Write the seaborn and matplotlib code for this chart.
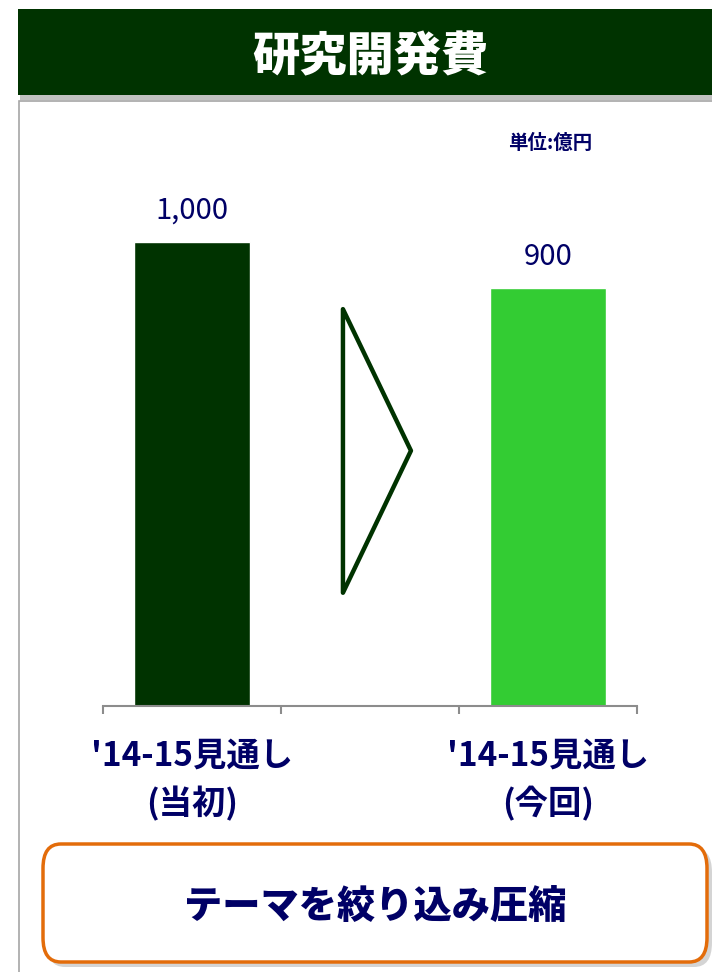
import matplotlib
matplotlib.use("Agg")
import matplotlib.pyplot as plt
import seaborn as sns
import pandas as pd
from matplotlib.patches import Rectangle, FancyBboxPatch, Polygon

# ---- data ----
categories = ["'14-15見通し\n(当初)", "'14-15見通し\n(今回)"]
values = [1000, 900]
value_labels = ["1,000", "900"]
bar_colors = ["#003300", "#33CC33"]
title = "研究開発費"
unit = "単位:億円"
note = "テーマを絞り込み圧縮"

sns.set_theme(style="white")
plt.rcParams['font.family'] = ['Noto Sans CJK JP', 'DejaVu Sans']

W, H = 712, 972
fig = plt.figure(figsize=(W / 100, H / 100), dpi=100)
fig.patch.set_facecolor("white")

def fx(x):
    return x / W

def fy(y):
    return 1 - y / H

NAVY = "#000066"

# header shadow + header
fig.add_artist(Rectangle((fx(20), fy(100)), fx(712) - fx(20), fy(93) - fy(100),
                         transform=fig.transFigure, facecolor="#999999", edgecolor="none", alpha=0.6))
fig.add_artist(Rectangle((fx(18), fy(95)), fx(712) - fx(18), fy(9) - fy(95),
                         transform=fig.transFigure, facecolor="#003300", edgecolor="none"))
fig.text(fx(370), fy(57), title, color="white", fontsize=34, fontweight="heavy",
         ha="center", va="center")

# panel border
fig.add_artist(Rectangle((fx(18.5), fy(975)), fx(720) - fx(18.5), fy(101) - fy(975),
                         transform=fig.transFigure, facecolor="none", edgecolor="#A6A6A6", lw=1.2))

fig.text(fx(550), fy(143), unit, color=NAVY, fontsize=14, fontweight="bold",
         ha="center", va="center")

# axes
ax_left, ax_right, ax_bottom, ax_top = 103, 637, 706, 149
ax = fig.add_axes([fx(ax_left), fy(ax_bottom), fx(ax_right) - fx(ax_left), fy(ax_top) - fy(ax_bottom)])

order = [categories[0], "", categories[1]]
df = pd.DataFrame({"cat": categories, "val": values})
sns.barplot(data=df, x="cat", y="val", hue="cat", order=order, hue_order=categories,
            palette=bar_colors, width=0.65, legend=False, ax=ax, saturation=1)

ax.set_xlim(-0.5, 2.5)
ax.set_ylim(0, 1200)
ax.set_xlabel("")
ax.set_ylabel("")
ax.set_yticks([])
for s in ["top", "right", "left"]:
    ax.spines[s].set_visible(False)
ax.spines["bottom"].set_color("#8C8C8C")
ax.spines["bottom"].set_linewidth(1.5)
ax.patch.set_alpha(0)

ax.set_xticks([-0.5, 0.5, 1.5, 2.5])
ax.set_xticklabels([])
ax.tick_params(axis="x", which="major", direction="out", length=6, width=1.5,
               color="#8C8C8C", bottom=True)
ax.set_xticks([0, 2], minor=True)
ax.set_xticklabels(categories, minor=True)
ax.tick_params(axis="x", which="minor", length=0, pad=24)
for t in ax.get_xticklabels(minor=True):
    t.set_color(NAVY)
    t.set_fontsize(24)
    t.set_fontweight("bold")
    t.set_linespacing(1.5)
    t.set_va("top")

# value labels
for x, v, lab in zip([0, 2], values, value_labels):
    ax.annotate(lab, (x, v), xytext=(0, 17), textcoords="offset points",
                ha="center", va="baseline", color=NAVY, fontsize=21)

# arrow (open triangle)
tri = Polygon([[0.848, 855], [1.23, 550], [0.848, 244]], closed=True, fill=False,
              edgecolor="#003300", lw=3.2, joinstyle="round")
ax.add_patch(tri)

# bottom note box with shadow
fig.add_artist(FancyBboxPatch((fx(47), fy(967)), fx(712) - fx(47), fy(848) - fy(967),
                              boxstyle="round,pad=0,rounding_size=0.025",
                              transform=fig.transFigure, facecolor="#AAAAAA",
                              edgecolor="none", alpha=0.5))
fig.add_artist(FancyBboxPatch((fx(43), fy(962)), fx(707) - fx(43), fy(844) - fy(962),
                              boxstyle="round,pad=0,rounding_size=0.025",
                              transform=fig.transFigure, facecolor="white",
                              edgecolor="#E36C0A", lw=2.5))
fig.text(fx(375), fy(908), note, color=NAVY, fontsize=27.5, fontweight="heavy",
         ha="center", va="center")

fig.savefig("out.png", dpi=100)
